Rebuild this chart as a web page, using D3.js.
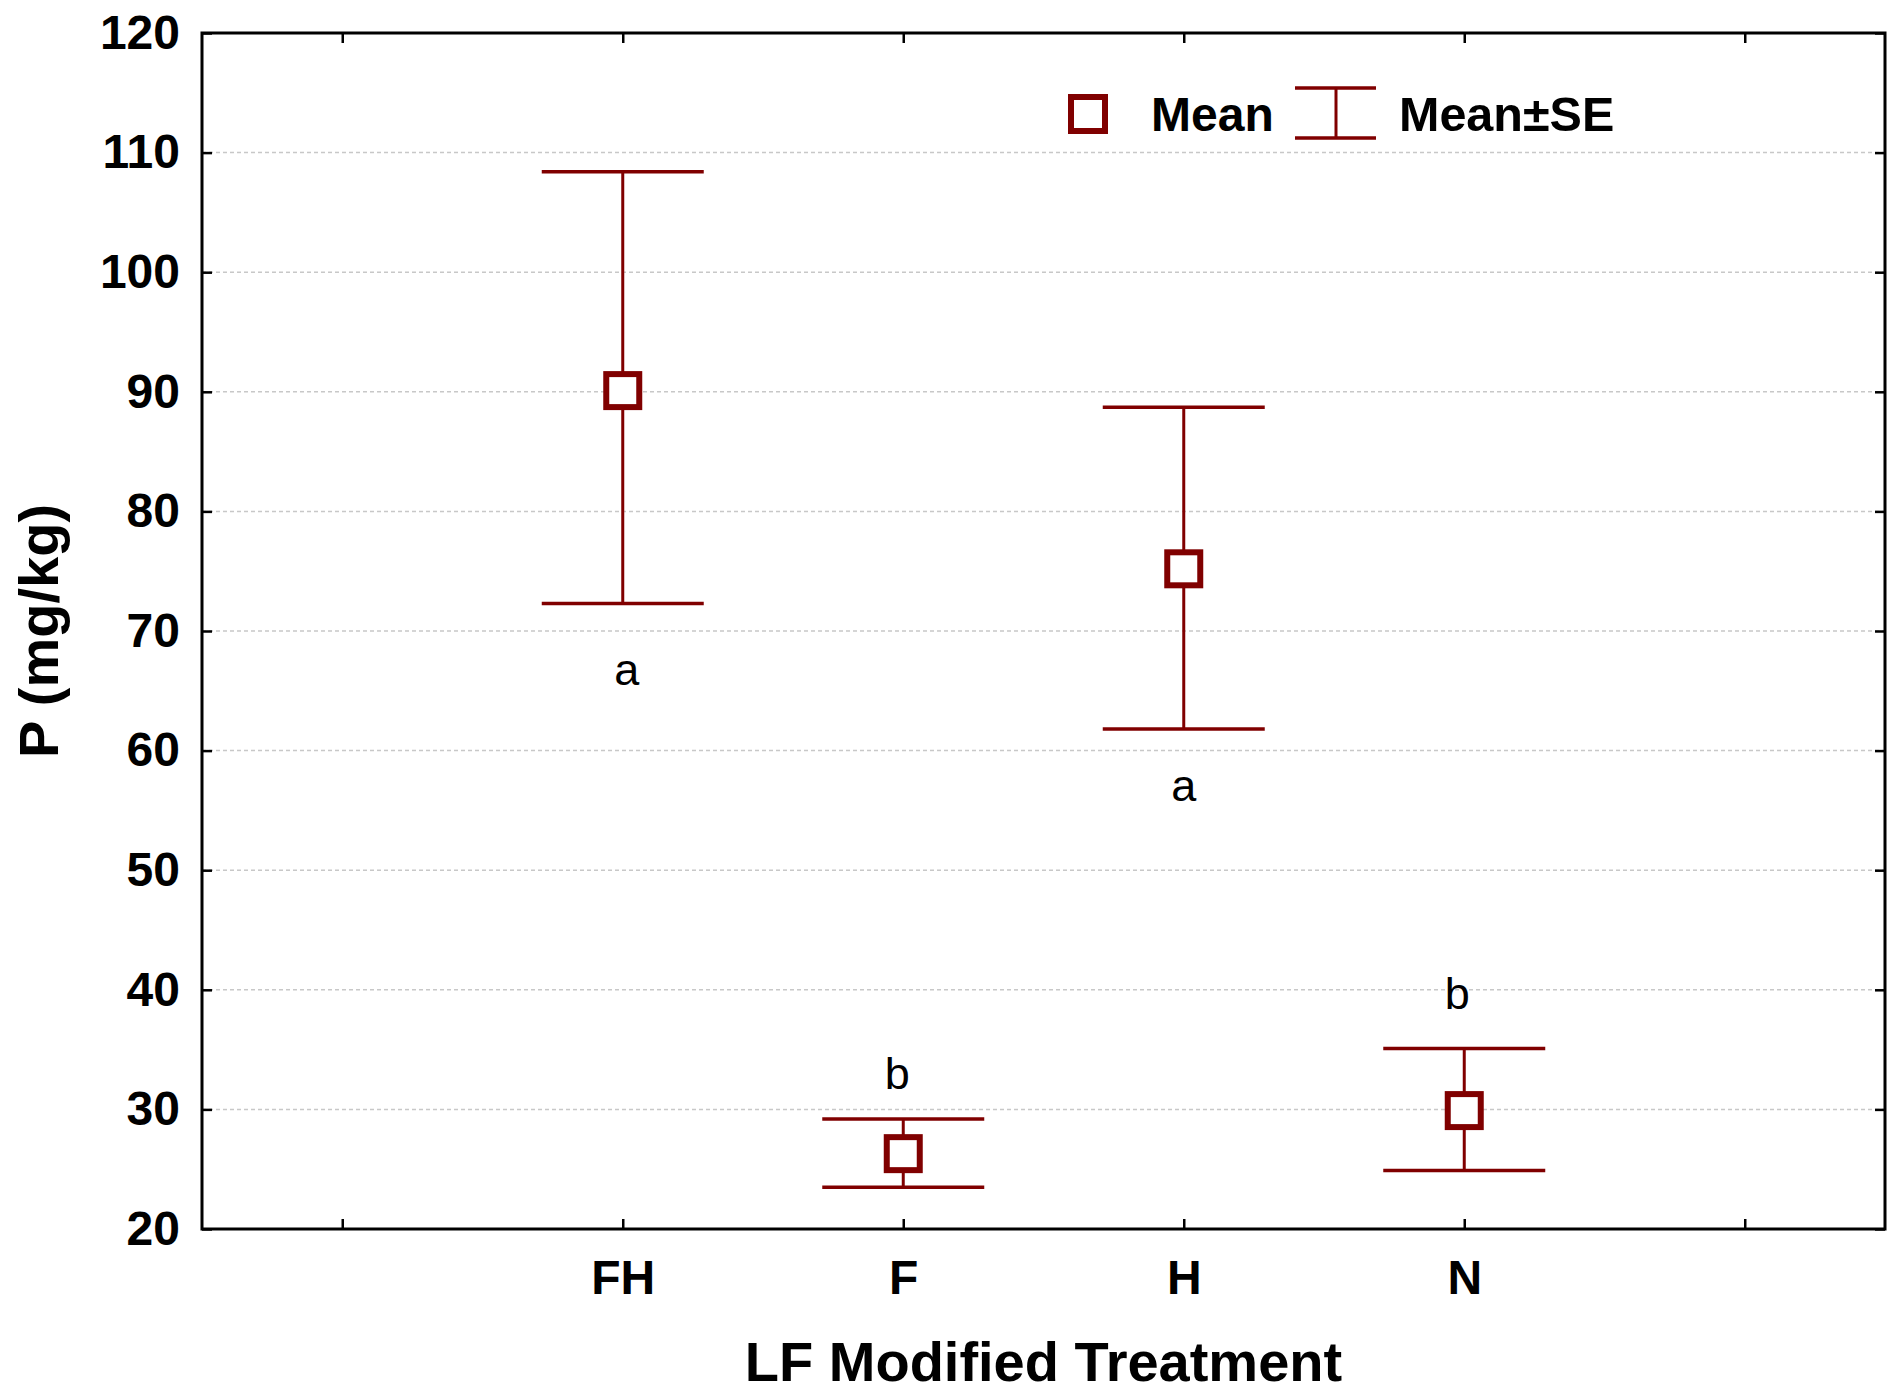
<!DOCTYPE html>
<html>
<head>
<meta charset="utf-8">
<script src="https://cdn.jsdelivr.net/npm/d3@7"></script>
<style>
  html, body { margin: 0; padding: 0; background: #fff; }
  svg { display: block; }
</style>
</head>
<body>
<script>
// Treatment groups and their P concentration summaries (mg/kg)
const categories = ["FH", "F", "H", "N"];
const means = [90.1, 26.3, 75.2, 29.9];
const seUpper = [108.4, 29.2, 88.7, 35.1];
const seLower = [72.3, 23.5, 61.8, 24.9];
// Significance groups and the value at which each letter sits
const groupLetters = ["a", "b", "a", "b"];
const letterValues = [65.5, 31.7, 55.8, 38.4];
const yTickValues = [20, 30, 40, 50, 60, 70, 80, 90, 100, 110, 120];
const legendLabels = ["Mean", "Mean\u00B1SE"];

const W = 1898, H = 1394;
const plot = { left: 202, right: 1885, top: 33, bottom: 1229 };
const red = "#800000";
const font = "'Liberation Sans', Arial, Helvetica, sans-serif";

const svg = d3.select("body").append("svg")
  .attr("width", W).attr("height", H)
  .style("background", "#fff");

// Six category slots; the outer two stay empty
const slots = d3.range(categories.length + 2);
const x = d3.scalePoint().domain(slots).range([plot.left, plot.right]).padding(0.5);
const xCat = i => x(i + 1);
const y = d3.scaleLinear().domain([20, 120]).range([plot.bottom, plot.top]);

// Dotted horizontal grid
svg.append("g").selectAll("line")
  .data(yTickValues.filter(v => v > 20 && v < 120))
  .join("line")
  .attr("x1", plot.left).attr("x2", plot.right)
  .attr("y1", d => y(d)).attr("y2", d => y(d))
  .attr("stroke", "#c8c8c8").attr("stroke-width", 1.5)
  .attr("stroke-dasharray", "4,3");

// Axes with inward ticks
function styleAxis(g) {
  g.select(".domain").remove();
  g.selectAll(".tick line").attr("stroke", "#000").attr("stroke-width", 2.5);
  g.selectAll(".tick text")
    .attr("fill", "#000")
    .style("font-family", font)
    .style("font-weight", "bold")
    .style("font-size", "48px");
}

svg.append("g")
  .attr("transform", `translate(${plot.left},0)`)
  .call(d3.axisLeft(y).tickValues(yTickValues).tickSize(-10).tickSizeOuter(0).tickPadding(22))
  .call(styleAxis);

svg.append("g")
  .attr("transform", `translate(${plot.right},0)`)
  .call(d3.axisRight(y).tickValues(yTickValues).tickSize(-10).tickSizeOuter(0).tickFormat(""))
  .call(styleAxis);

svg.append("g")
  .attr("transform", `translate(0,${plot.bottom})`)
  .call(d3.axisBottom(x).tickSize(-10).tickSizeOuter(0).tickPadding(31)
    .tickFormat(i => categories[i - 1] || ""))
  .call(styleAxis);

svg.append("g")
  .attr("transform", `translate(0,${plot.top})`)
  .call(d3.axisTop(x).tickSize(-10).tickSizeOuter(0).tickFormat(""))
  .call(styleAxis);

// Plot frame
svg.append("rect")
  .attr("x", plot.left).attr("y", plot.top)
  .attr("width", plot.right - plot.left).attr("height", plot.bottom - plot.top)
  .attr("fill", "none").attr("stroke", "#000").attr("stroke-width", 3);

// Error bars (mean ± SE)
const rows = categories.map((c, i) => ({
  c, i, mean: means[i], hi: seUpper[i], lo: seLower[i],
  letter: groupLetters[i], letterV: letterValues[i]
}));
const capHalf = 81;
const bars = svg.append("g");
bars.selectAll(".stem").data(rows).join("line")
  .attr("x1", d => xCat(d.i)).attr("x2", d => xCat(d.i))
  .attr("y1", d => y(d.lo)).attr("y2", d => y(d.hi))
  .attr("stroke", red).attr("stroke-width", 3);
bars.selectAll(".capHi").data(rows).join("line")
  .attr("x1", d => xCat(d.i) - capHalf).attr("x2", d => xCat(d.i) + capHalf)
  .attr("y1", d => y(d.hi)).attr("y2", d => y(d.hi))
  .attr("stroke", red).attr("stroke-width", 3.5);
bars.selectAll(".capLo").data(rows).join("line")
  .attr("x1", d => xCat(d.i) - capHalf).attr("x2", d => xCat(d.i) + capHalf)
  .attr("y1", d => y(d.lo)).attr("y2", d => y(d.lo))
  .attr("stroke", red).attr("stroke-width", 3.5);

// Mean markers
const sq = 33;
bars.selectAll(".mean").data(rows).join("rect")
  .attr("x", d => xCat(d.i) - sq / 2).attr("y", d => y(d.mean) - sq / 2)
  .attr("width", sq).attr("height", sq)
  .attr("fill", "#fff").attr("stroke", red).attr("stroke-width", 6);

// Group letters
const letterDx = [4, -6, 0, -7];
svg.append("g").selectAll("text").data(rows).join("text")
  .attr("x", d => xCat(d.i) + letterDx[d.i])
  .attr("y", d => y(d.letterV))
  .attr("text-anchor", "middle")
  .style("font-family", font).style("font-size", "45px")
  .attr("fill", "#000")
  .text(d => d.letter);

// Legend
const lg = svg.append("g");
lg.append("rect")
  .attr("x", 1088 - 17).attr("y", 114 - 17).attr("width", 34).attr("height", 34)
  .attr("fill", "#fff").attr("stroke", red).attr("stroke-width", 6);
lg.append("text").attr("x", 1151).attr("y", 131)
  .style("font-family", font).style("font-weight", "bold").style("font-size", "48px")
  .text(legendLabels[0]);
lg.append("line").attr("x1", 1336).attr("x2", 1336).attr("y1", 88).attr("y2", 138)
  .attr("stroke", red).attr("stroke-width", 3);
lg.append("line").attr("x1", 1295).attr("x2", 1376).attr("y1", 88).attr("y2", 88)
  .attr("stroke", red).attr("stroke-width", 3.5);
lg.append("line").attr("x1", 1295).attr("x2", 1376).attr("y1", 138).attr("y2", 138)
  .attr("stroke", red).attr("stroke-width", 3.5);
lg.append("text").attr("x", 1399).attr("y", 131)
  .style("font-family", font).style("font-weight", "bold").style("font-size", "48.5px")
  .text(legendLabels[1]);

// Axis titles
svg.append("text")
  .attr("x", (plot.left + plot.right) / 2).attr("y", 1381)
  .attr("text-anchor", "middle")
  .style("font-family", font).style("font-weight", "bold").style("font-size", "56px")
  .text("LF Modified Treatment");

svg.append("text")
  .attr("transform", `translate(58,${(plot.top + plot.bottom) / 2}) rotate(-90)`)
  .attr("text-anchor", "middle")
  .style("font-family", font).style("font-weight", "bold").style("font-size", "56px")
  .text("P (mg/kg)");
</script>
</body>
</html>
